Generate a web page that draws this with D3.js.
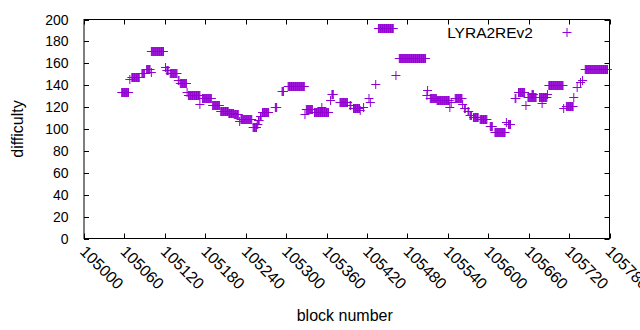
<!DOCTYPE html>
<html>
<head>
<meta charset="utf-8">
<script src="https://cdn.jsdelivr.net/npm/d3@7"></script>
<style>
  body { margin: 0; background: #fff; }
  svg text { font-family: "Liberation Sans", Arial, sans-serif; fill: #000; }
</style>
</head>
<body>
<svg id="chart" width="640" height="330"></svg>
<script>
// difficulty per block, stored as runs: first block, number of blocks, difficulty
const runStart = [
  105056, 105068, 105071, 105086, 105093, 105100, 105100, 105121, 105123, 105128,
  105140, 105143, 105153, 105155, 105172, 105176, 105191, 105203, 105215, 105223,
  105231, 105233, 105251, 105257, 105259, 105262, 105265, 105284, 105294, 105303,
  105328, 105330, 105342, 105353, 105366, 105368, 105380, 105395, 105400, 105410,
  105415, 105423, 105425, 105433, 105437, 105463, 105468, 105509, 105510, 105514,
  105524, 105543, 105545, 105551, 105562, 105565, 105570, 105573, 105578, 105588,
  105603, 105610, 105627, 105630, 105640, 105645, 105656, 105659, 105665, 105680,
  105676, 105688, 105690, 105712, 105716, 105727, 105732, 105737, 105740, 105744
];
const runLength = [
  11, 1, 12, 5, 6, 1, 19, 1, 3, 11,
  2, 10, 1, 18, 1, 14, 11, 12, 8, 7,
  1, 17, 6, 2, 2, 2, 10, 3, 3, 25,
  1, 10, 22, 1, 1, 3, 12, 2, 10, 1,
  1, 1, 1, 1, 23, 1, 40, 1, 1, 10,
  19, 1, 1, 11, 1, 2, 2, 3, 8, 11,
  4, 16, 1, 4, 2, 10, 1, 13, 3, 1,
  12, 1, 22, 1, 11, 1, 1, 1, 1, 34
];
const runValue = [
  133.5, 146, 147.5, 151, 155, 152, 171, 157, 154, 151,
  145, 142, 134, 131.5, 122.5, 128, 122, 116, 115, 113.5,
  107.5, 109.5, 102, 104.5, 108, 112, 115.5, 120, 134.5, 139.5,
  113.5, 118, 115.5, 120.5, 126.5, 132, 125, 122, 119, 117,
  120, 128, 125, 141, 192.5, 149, 164.5, 131, 135.5, 128,
  126.5, 120.5, 125, 128, 122.5, 119, 116, 113, 111, 109,
  102.5, 97, 106.5, 105, 128, 133.5, 122, 129.5, 132, 124,
  129.5, 132, 140, 119, 121, 129, 138.5, 143, 145, 154.5
];

const xTicks = d3.range(105000, 105781, 60);
const yTicks = d3.range(0, 201, 20);
const seriesName = "LYRA2REv2";
const xTitle = "block number";
const yTitle = "difficulty";

const points = [];
runStart.forEach((s, i) => {
  for (let b = s; b < s + runLength[i]; b++) points.push({ block: b, value: runValue[i] });
});

const svg = d3.select("#chart");
const frame = { left: 84, right: 609.5, top: 19.5, bottom: 238.5 };
const color = "#9400d3";

const x = d3.scaleLinear().domain([105000, 105780]).range([frame.left, frame.right]);
const y = d3.scaleLinear().domain([0, 200]).range([frame.bottom, frame.top]);

// ticks on all four sides, pointing inward
const tickLen = 5;
const axes = svg.append("g").attr("stroke", "#000").attr("stroke-width", 1);
xTicks.forEach(t => {
  const px = Math.round(x(t)) + 0.5;
  axes.append("line").attr("x1", px).attr("x2", px).attr("y1", frame.bottom).attr("y2", frame.bottom - tickLen);
  axes.append("line").attr("x1", px).attr("x2", px).attr("y1", frame.top).attr("y2", frame.top + tickLen);
});
yTicks.forEach(t => {
  const py = Math.round(y(t)) + 0.5;
  axes.append("line").attr("x1", frame.left).attr("x2", frame.left + tickLen).attr("y1", py).attr("y2", py);
  axes.append("line").attr("x1", frame.right).attr("x2", frame.right - tickLen).attr("y1", py).attr("y2", py);
});
axes.append("rect")
  .attr("x", frame.left).attr("y", frame.top)
  .attr("width", frame.right - frame.left).attr("height", frame.bottom - frame.top)
  .attr("fill", "none");

// tick labels
svg.append("g").selectAll("text").data(yTicks).join("text")
  .attr("x", frame.left - 15.5).attr("y", d => y(d) + 5)
  .attr("text-anchor", "end").attr("font-size", 14)
  .text(d => d);

svg.append("g").selectAll("text").data(xTicks).join("text")
  .attr("transform", d => `translate(${x(d) - 5},${frame.bottom + 14}) rotate(45)`)
  .attr("font-size", 16)
  .text(d => d);

// axis titles
svg.append("text")
  .attr("x", (frame.left + frame.right) / 2 - 2).attr("y", 321)
  .attr("text-anchor", "middle").attr("font-size", 16)
  .text(xTitle);
svg.append("text")
  .attr("transform", `translate(23,${(frame.top + frame.bottom) / 2}) rotate(-90)`)
  .attr("text-anchor", "middle").attr("font-size", 16)
  .text(yTitle);

// points as '+' markers
const plus = (px, py) => `M${px - 4.5},${py}h9M${px},${py - 4.5}v9`;
svg.append("path")
  .attr("d", points.map(p => plus(x(p.block), Math.round(y(p.value)) + 0.5)).join(""))
  .attr("fill", "none").attr("stroke", color).attr("stroke-width", 1);

// legend
svg.append("text")
  .attr("x", 533).attr("y", 37.5)
  .attr("text-anchor", "end").attr("font-size", 15.5)
  .text(seriesName);
svg.append("path")
  .attr("d", plus(567, 32.5))
  .attr("fill", "none").attr("stroke", color).attr("stroke-width", 1);
</script>
</body>
</html>
